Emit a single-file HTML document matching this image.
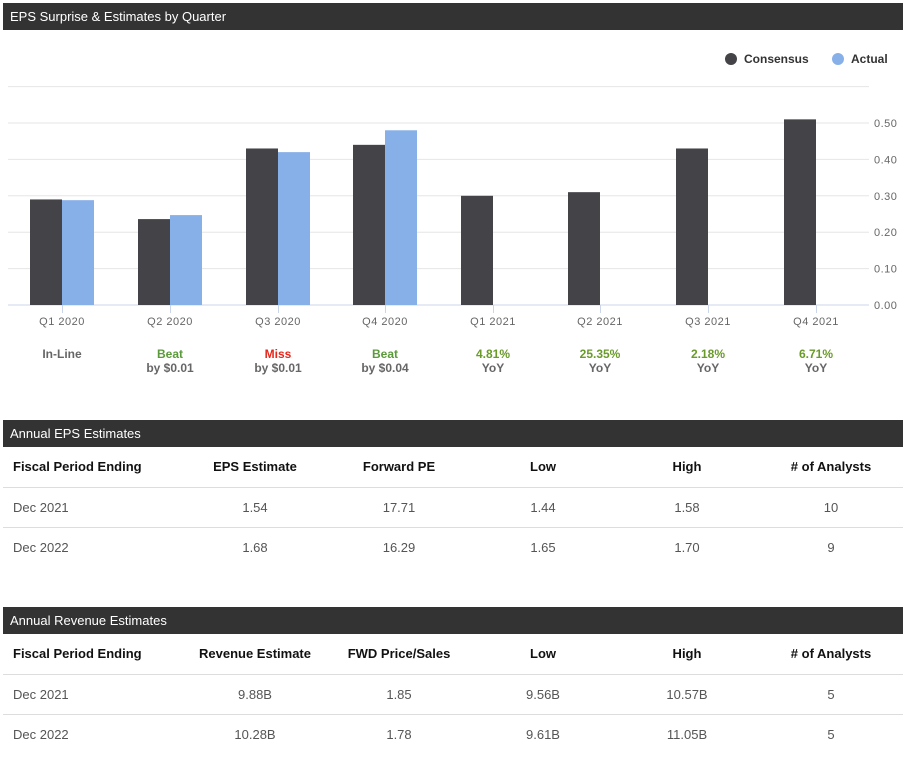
<!DOCTYPE html>
<html><head><meta charset="utf-8">
<style>
body{margin:0;width:907px;height:765px;background:#fff;font-family:"Liberation Sans",Arial,sans-serif;position:relative;overflow:hidden}
.bar{position:absolute;left:3px;width:900px;height:27px;background:#333;color:#fff;font-size:13px;line-height:27px;padding-left:7px;box-sizing:border-box}
.t{position:absolute;font-size:13px;color:#555;white-space:nowrap}
.h{color:#111;font-weight:bold}
.c{transform:translateX(-50%)}
.line{position:absolute;left:3px;width:900px;height:1px;background:#ddd}
</style></head><body>
<div class="bar" style="top:3px">EPS Surprise &amp; Estimates by Quarter</div>
<svg id="chart" width="907" height="400" style="position:absolute;left:0;top:0"></svg>
<script>
const categories=["Q1 2020","Q2 2020","Q3 2020","Q4 2020","Q1 2021","Q2 2021","Q3 2021","Q4 2021"];
const consensus=[0.29,0.236,0.43,0.44,0.30,0.31,0.43,0.51];
const actual=[0.288,0.247,0.42,0.48,null,null,null,null];
const yTicks=[0,0.1,0.2,0.3,0.4,0.5,0.6];
const line1=["In-Line","Beat","Miss","Beat","4.81%","25.35%","2.18%","6.71%"];
const line2=["","by $0.01","by $0.01","by $0.04","YoY","YoY","YoY","YoY"];
const line1Colors=["#666","#5a9a3a","#e8261c","#5a9a3a","#6a9a2a","#6a9a2a","#6a9a2a","#6a9a2a"];
const NS="http://www.w3.org/2000/svg";
const svg=document.getElementById('chart');
const x0=8,x1=869,base=305,pxPer=364;
const y=v=>base-v*pxPer;
const band=(x1-x0)/categories.length;
const cx=i=>Math.round(x0+band*(i+0.5)+0.5);
function mk(tag,attrs,txt){const e=document.createElementNS(NS,tag);for(const k in attrs)e.setAttribute(k,attrs[k]);if(txt!==undefined)e.textContent=txt;svg.appendChild(e);return e;}
yTicks.forEach(v=>{
 const g=mk('line',{x1:x0,x2:x1,y1:y(v),y2:y(v),stroke:v===0?'#ccd6eb':'#e6e6e6','stroke-width':1});
 
 
 if(v<=0.5){const t=mk('text',{x:874,y:y(v)+4,'font-size':11,fill:'#666','font-family':'Liberation Sans','letter-spacing':'0.5'},v.toFixed(2));
 
 }
});
categories.forEach((c,i)=>{
 const m=cx(i);
 const r=mk('rect',{x:m-32,y:y(consensus[i]),width:32,height:consensus[i]*pxPer,fill:'#434348'});
 
 
 if(actual[i]!==null){const a=mk('rect',{x:m,y:y(actual[i]),width:32,height:actual[i]*pxPer,fill:'#88b0e8'});
 
 }
 const tk=mk('line',{x1:m+0.5,x2:m+0.5,y1:base,y2:base+8,stroke:'#ccd6eb'});
 
 
 const t=mk('text',{x:m,y:325,'font-size':11,fill:'#666','text-anchor':'middle','letter-spacing':'0.5','font-family':'Liberation Sans'},c);
 
 
 const s1=mk('text',{x:m,y:358,'font-size':12,'font-weight':'bold',fill:line1Colors[i],'text-anchor':'middle','font-family':'Liberation Sans'},line1[i]);
 
 
 if(line2[i]){const s2=mk('text',{x:m,y:372,'font-size':12,'font-weight':'bold',fill:'#666','text-anchor':'middle','font-family':'Liberation Sans'},line2[i]);
 
 }
});
const lc=mk('circle',{cx:731,cy:59,r:6,fill:'#434348'});


const lt=mk('text',{x:744,y:63,'font-size':12,'font-weight':'bold',fill:'#333','font-family':'Liberation Sans'},'Consensus');


const la=mk('circle',{cx:838,cy:59,r:6,fill:'#88b0e8'});


const lat=mk('text',{x:851,y:63,'font-size':12,'font-weight':'bold',fill:'#333','font-family':'Liberation Sans'},'Actual');


</script>

<div class="bar" style="top:420px">Annual EPS Estimates</div>
<div>
<div class="t h" style="left:13px;top:459px">Fiscal Period Ending</div>
<div class="t h c" style="left:255px;top:459px">EPS Estimate</div>
<div class="t h c" style="left:399px;top:459px">Forward PE</div>
<div class="t h c" style="left:543px;top:459px">Low</div>
<div class="t h c" style="left:687px;top:459px">High</div>
<div class="t h c" style="left:831px;top:459px"># of Analysts</div>
<div class="line" style="top:487px"></div>
<div class="t" style="left:13px;top:500px">Dec 2021</div>
<div class="t c" style="left:255px;top:500px">1.54</div>
<div class="t c" style="left:399px;top:500px">17.71</div>
<div class="t c" style="left:543px;top:500px">1.44</div>
<div class="t c" style="left:687px;top:500px">1.58</div>
<div class="t c" style="left:831px;top:500px">10</div>
<div class="line" style="top:527px"></div>
<div class="t" style="left:13px;top:540px">Dec 2022</div>
<div class="t c" style="left:255px;top:540px">1.68</div>
<div class="t c" style="left:399px;top:540px">16.29</div>
<div class="t c" style="left:543px;top:540px">1.65</div>
<div class="t c" style="left:687px;top:540px">1.70</div>
<div class="t c" style="left:831px;top:540px">9</div>
</div>

<div class="bar" style="top:607px">Annual Revenue Estimates</div>
<div>
<div class="t h" style="left:13px;top:646px">Fiscal Period Ending</div>
<div class="t h c" style="left:255px;top:646px">Revenue Estimate</div>
<div class="t h c" style="left:399px;top:646px">FWD Price/Sales</div>
<div class="t h c" style="left:543px;top:646px">Low</div>
<div class="t h c" style="left:687px;top:646px">High</div>
<div class="t h c" style="left:831px;top:646px"># of Analysts</div>
<div class="line" style="top:674px"></div>
<div class="t" style="left:13px;top:687px">Dec 2021</div>
<div class="t c" style="left:255px;top:687px">9.88B</div>
<div class="t c" style="left:399px;top:687px">1.85</div>
<div class="t c" style="left:543px;top:687px">9.56B</div>
<div class="t c" style="left:687px;top:687px">10.57B</div>
<div class="t c" style="left:831px;top:687px">5</div>
<div class="line" style="top:714px"></div>
<div class="t" style="left:13px;top:727px">Dec 2022</div>
<div class="t c" style="left:255px;top:727px">10.28B</div>
<div class="t c" style="left:399px;top:727px">1.78</div>
<div class="t c" style="left:543px;top:727px">9.61B</div>
<div class="t c" style="left:687px;top:727px">11.05B</div>
<div class="t c" style="left:831px;top:727px">5</div>
</div>
</body></html>
